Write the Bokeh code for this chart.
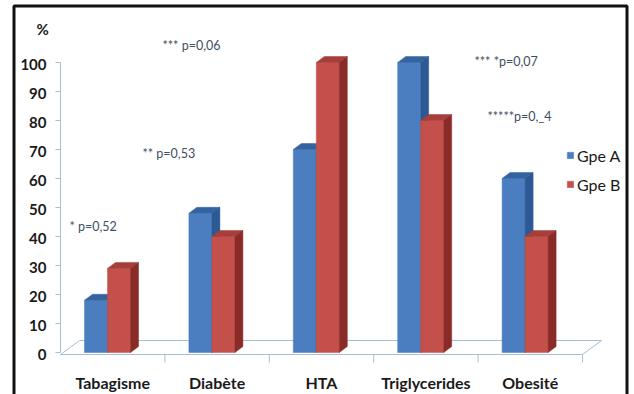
from bokeh.plotting import figure
from bokeh.models import Range1d, Legend, LegendItem
from bokeh.core.properties import value
from bokeh.embed import file_html
from bokeh.resources import INLINE

# ---- data -------------------------------------------------------------
categories = ["Tabagisme", "Diabète", "HTA", "Triglycerides", "Obesité"]
gpe_a = [18, 48, 70, 100, 60]
gpe_b = [29, 40, 100, 80, 40]
series_names = ["Gpe A", "Gpe B"]
y_ticks = [0, 10, 20, 30, 40, 50, 60, 70, 80, 90, 100]
y_unit = "%"
notes = ["* p=0,52", "** p=0,53", "*** p=0,06", "*** *p=0,07", "*****p=0,_4"]

# ---- layout (canvas pixels) ------------------------------------------
W, H = 634, 394
X0_PX, SLOT_PX = 60.0, 104.4          # left of first category slot, slot width
Y0_PX, Y100_PX = 352.0, 62.0          # pixel rows of 0 % and 100 %
PX_PER_Y = (Y0_PX - Y100_PX) / 100.0

x_start = -X0_PX / SLOT_PX
x_end = x_start + W / SLOT_PX
y_end = 100 + Y100_PX / PX_PER_Y
y_start = y_end - H / PX_PER_Y


def dx(px):  # pixel distance -> x data distance
    return px / SLOT_PX


def dy(px):  # pixel distance -> y data distance
    return px / PX_PER_Y


def xd(px):  # canvas column -> x data
    return x_start + px / SLOT_PX


def yd(py):  # canvas row (from top) -> y data
    return y_end - py / PX_PER_Y


p = figure(width=W, height=H, x_range=Range1d(x_start, x_end),
           y_range=Range1d(y_start, y_end), min_border=0,
           toolbar_location=None, output_backend="svg")
p.axis.visible = False
p.grid.visible = False
p.outline_line_color = None
p.background_fill_color = "white"
p.border_fill_color = "white"

# outer black frame
p.quad(left=xd(13.5), right=xd(626.5), top=yd(5.5), bottom=yd(420),
       fill_color=None, line_color="#111111", line_width=3)

# 3D floor
FLOOR_DX, FLOOR_DY = dx(19), dy(14)
f_front = yd(354)
n = len(categories)
p.patch([0, n, n + FLOOR_DX, FLOOR_DX], [f_front, f_front, f_front + FLOOR_DY, f_front + FLOOR_DY],
        fill_color="white", line_color="#A7BFD2", line_width=1)
# category separators on the floor front edge
p.segment(x0=list(range(1, n + 1)), y0=[f_front] * n, x1=list(range(1, n + 1)),
          y1=[yd(362)] * n, line_color="#A7BFD2", line_width=1)

# value axis
p.segment(x0=[0], y0=[y_ticks[0]], x1=[0], y1=[y_ticks[-1]], line_color="#A7BFD2", line_width=1)
p.segment(x0=[dx(-5)] * len(y_ticks), y0=y_ticks, x1=[0] * len(y_ticks), y1=y_ticks,
          line_color="#A7BFD2", line_width=1)
p.text(x=[dx(-14)] * len(y_ticks), y=y_ticks, text=[str(t) for t in y_ticks],
       text_align="right", text_baseline="middle", y_offset=2,
       text_font=value("Lato"), text_font_style="bold", text_font_size="15px",
       text_color="#1A1A1A")
p.text(x=[xd(36)], y=[yd(28)], text=[y_unit], text_align="left", text_baseline="middle",
       text_font=value("Lato"), text_font_style="bold", text_font_size="15px",
       text_color="#1A1A1A")

# 3D columns
DEPTH_X, DEPTH_Y = dx(8), dy(6)
BAR_OFF, BAR_W = dx(24), dx(23)
colors = {
    "Gpe A": ("#4A7EC0", "#34649F", "#2C5894"),
    "Gpe B": ("#C4504C", "#A63E3B", "#8A2B28"),
}
front_renderers = {name: None for name in series_names}
# draw per category so that the right-hand series overlaps the left one
for i in range(n):
    for s, (name, vals) in enumerate(zip(series_names, [gpe_a, gpe_b])):
        front_c, top_c, side_c = colors[name]
        l = i + BAR_OFF + s * BAR_W
        r = l + BAR_W
        v = vals[i]
        fr = p.quad(left=[l], right=[r], bottom=[0], top=[v],
                    fill_color=front_c, line_color=front_c, line_width=0.5)
        p.patch([l, r, r + DEPTH_X, l + DEPTH_X], [v, v, v + DEPTH_Y, v + DEPTH_Y],
                fill_color=top_c, line_color=top_c, line_width=0.5)
        p.patch([r, r + DEPTH_X, r + DEPTH_X, r], [0, DEPTH_Y, v + DEPTH_Y, v],
                fill_color=side_c, line_color=side_c, line_width=0.5)
        if front_renderers[name] is None:
            front_renderers[name] = fr

# category labels
p.text(x=[i + 0.5 for i in range(n)], y=[yd(382)] * n, text=categories,
       text_align="center", text_baseline="middle",
       text_font=value("Lato"), text_font_style="bold", text_font_size="16px",
       text_color="#1A1A1A")

# significance notes
note_pos = [(69, 226), (142, 153), (162, 45), (474, 61), (487, 116)]
p.text(x=[xd(a) for a, _ in note_pos], y=[yd(b) for _, b in note_pos], text=notes,
       text_align="left", text_baseline="middle",
       text_font=value("Lato"), text_font_size="12.5px", text_color="#3E4E62")

# legend
legend = Legend(items=[LegendItem(label=nm, renderers=[front_renderers[nm]]) for nm in series_names],
                location=(566, 200), orientation="vertical",
                glyph_width=8, glyph_height=8, label_standoff=3, spacing=9,
                padding=0, margin=0, border_line_color=None, background_fill_alpha=0,
                label_text_font="Lato", label_text_font_size="16px", label_text_color="#1A1A1A",
                label_height=20)
p.add_layout(legend)

open("out.html", "w").write(file_html(p, INLINE))
